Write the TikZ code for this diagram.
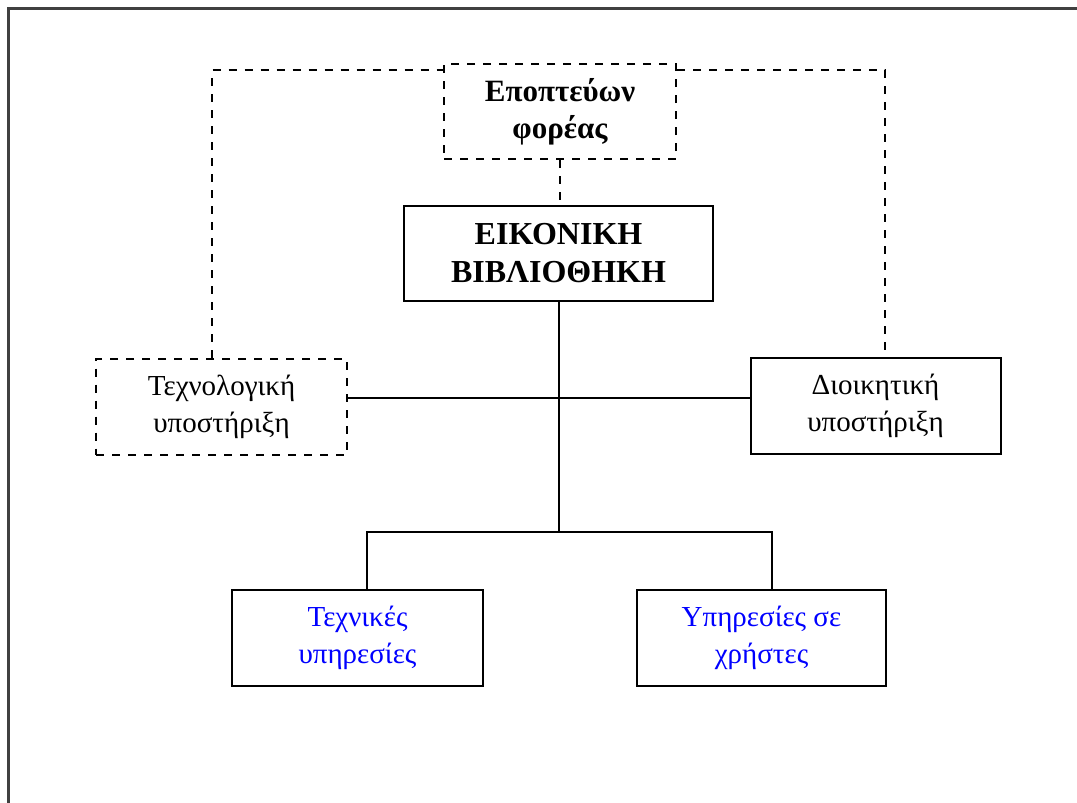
\documentclass[tikz,border=0pt]{standalone}
\usepackage{fontspec}
\setmainfont{Liberation Serif}
\begin{document}
\begin{tikzpicture}[x=1pt,y=-1pt,
  box/.style={draw=black,line width=2pt,fill=white,align=center,inner sep=0pt,
    font=\fontsize{29}{37}\selectfont},
  dbox/.style={box,dash pattern=on 8pt off 8pt},
  link/.style={draw=black,line width=2pt},
  dlink/.style={link,dash pattern=on 8pt off 8pt},
  blue text/.style={text=blue}]
\useasboundingbox (0,0) rectangle (1077,803);
% outer frame (only the top and left edges fall inside the page)
\draw[line width=3pt,draw=black!75] (8,820) -- (8,8) -- (1090,8);

% nodes
\node[dbox,minimum width=232pt,minimum height=95pt,font=\bfseries\fontsize{31}{37}\selectfont]
  (sup) at (560,111.5) {Εποπτεύων\\φορέας};
\node[box,minimum width=309pt,minimum height=95pt,font=\bfseries\fontsize{32}{38}\selectfont]
  (lib) at (558.5,253.5) {ΕΙΚΟΝΙΚΗ\\ΒΙΒΛΙΟΘΗΚΗ};
\node[dbox,minimum width=251pt,minimum height=96pt] (tech) at (221.5,406.5) {Τεχνολογική\\υποστήριξη};
\node[box,minimum width=250pt,minimum height=96pt] (admin) at (875.5,406) {Διοικητική\\υποστήριξη};
\node[box,blue text,minimum width=251pt,minimum height=96pt] (techsvc) at (357.5,638) {Τεχνικές\\υπηρεσίες};
\node[box,blue text,minimum width=249pt,minimum height=96pt] (usersvc) at (761.5,638) {Υπηρεσίες σε\\χρήστες};

% junction points
\coordinate (hub) at (559,398);
\coordinate (fork) at (559,532);
\coordinate (forkl) at (367,532);
\coordinate (forkr) at (772,532);
\coordinate (cl) at (212,70);
\coordinate (cr) at (885,70);

% solid connectors
\draw[link] (lib.south) -- (lib.south |- fork);
\draw[link] (hub -| tech.east) -- (hub -| admin.west);
\draw[link] (forkl |- techsvc.north) -- (forkl) -- (forkr) -- (forkr |- usersvc.north);

% dashed connectors
\draw[dlink] (sup.south) -- (sup.south |- lib.north);
\draw[dlink] (cl |- tech.north) -- (cl) -- (cl -| sup.west);
\draw[dlink] (cr -| sup.east) -- (cr) -- (cr |- admin.north);
\end{tikzpicture}
\end{document}
